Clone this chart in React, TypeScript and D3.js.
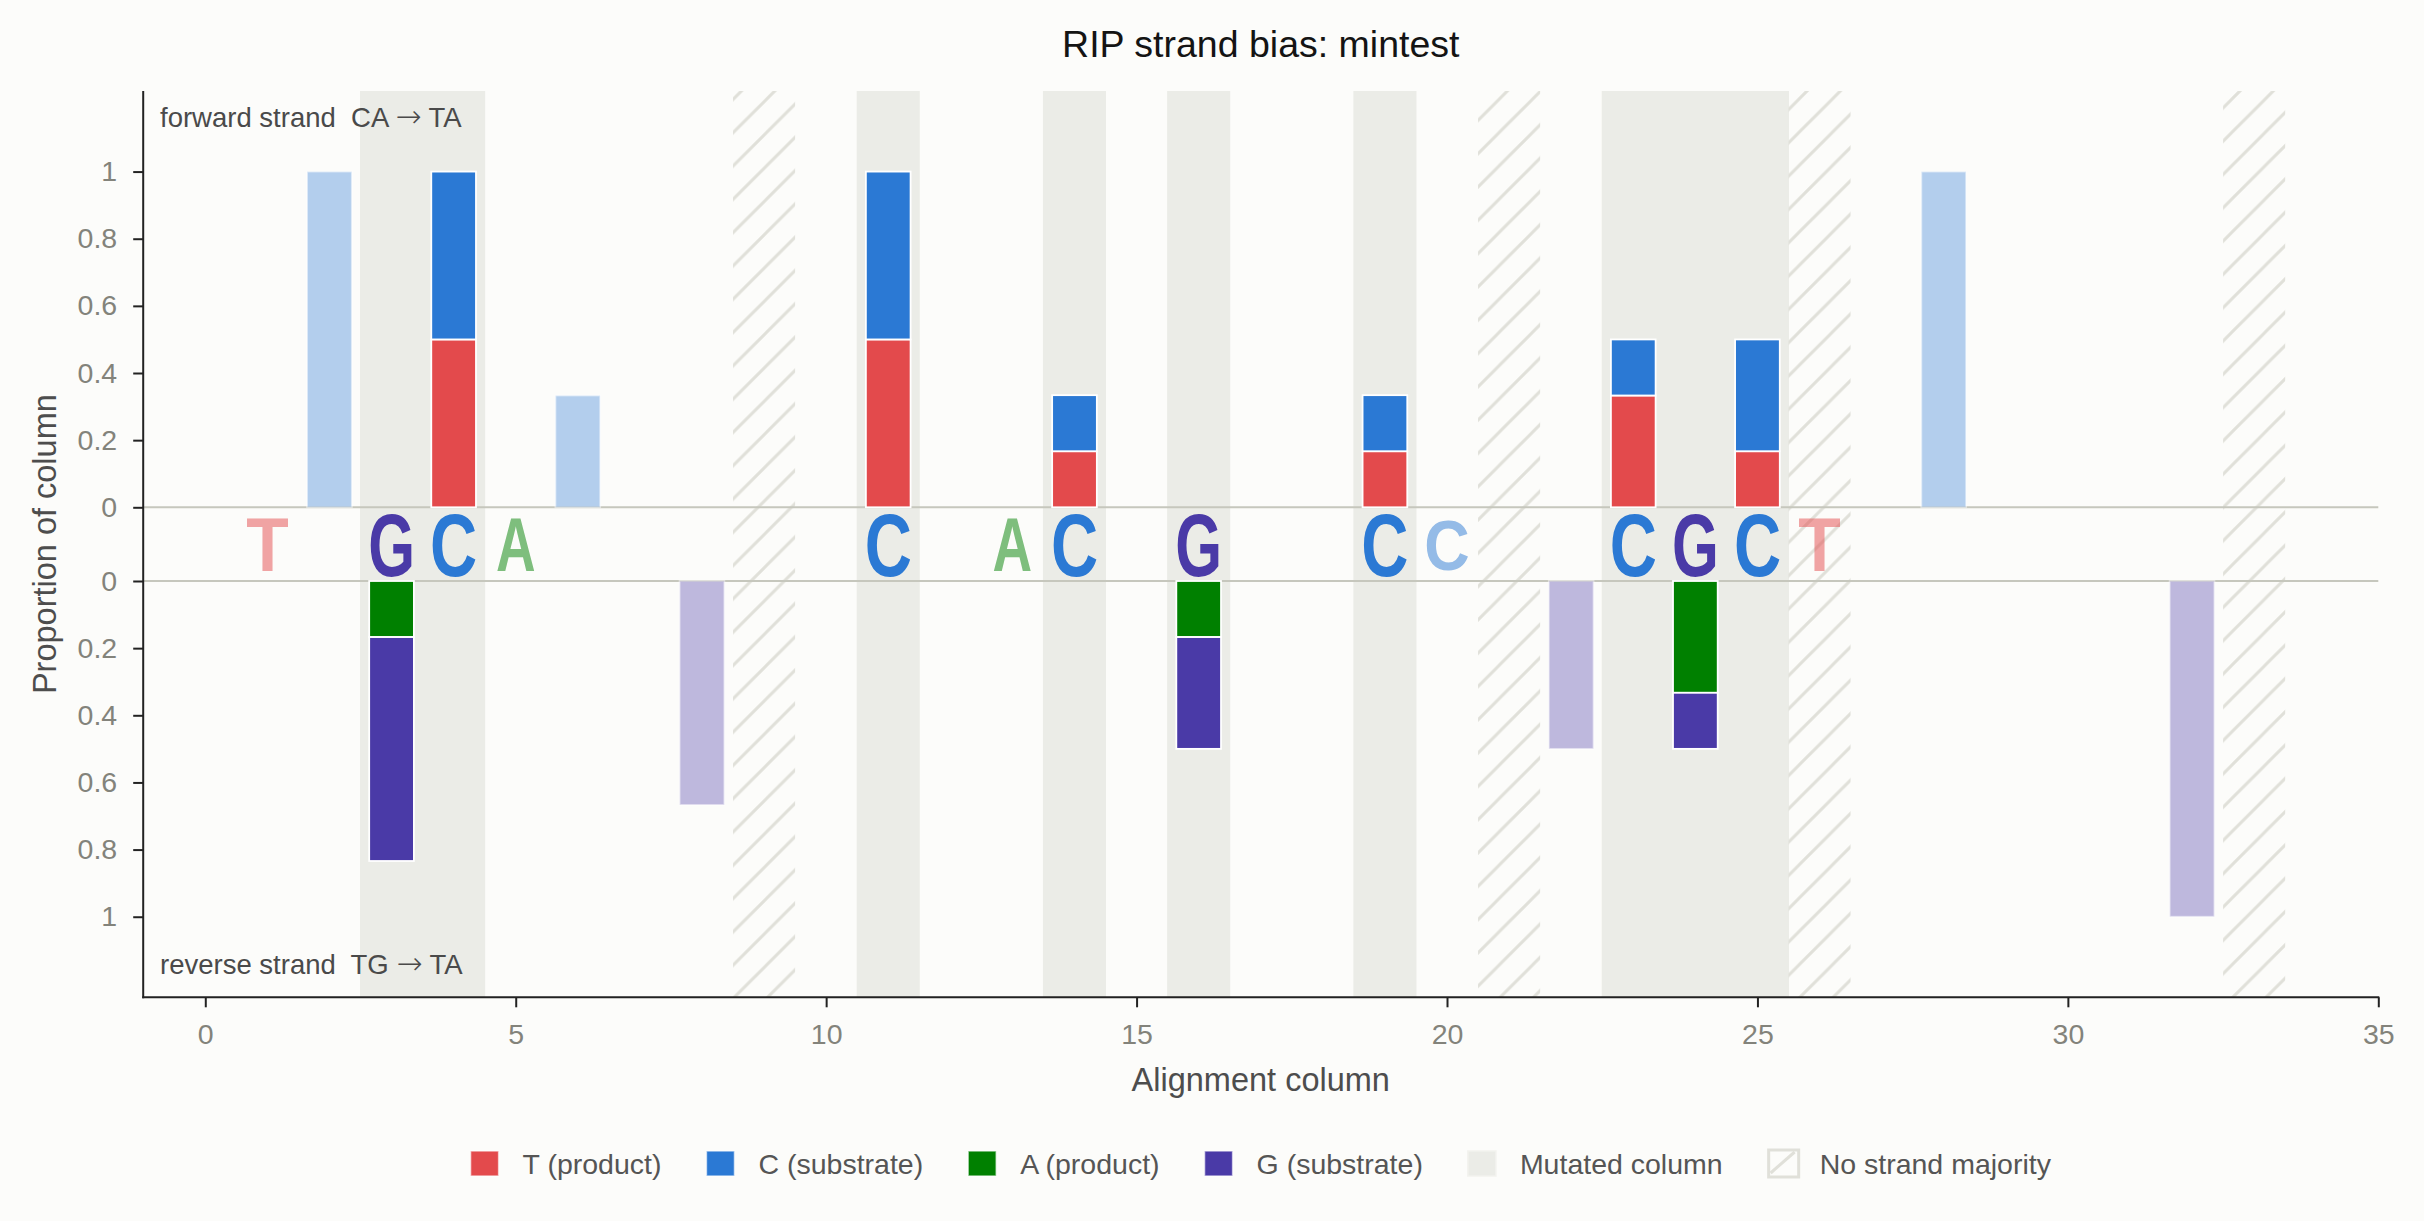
import React, { useEffect, useRef } from 'react';
import * as d3 from 'd3';

const W = 2424;
const H = 1221;

// columns with a called mutation (grey band) and columns with no strand majority (hatched)
const mutatedCols = [3, 4, 11, 14, 16, 19, 23, 24, 25];
const noMajorityCols = [9, 21, 26, 33];

// consensus letters drawn in the strip between the two strands
const letterCols = [1, 3, 4, 5, 11, 13, 14, 16, 19, 20, 23, 24, 25, 26];
const letterBases = ['T', 'G', 'C', 'A', 'C', 'A', 'C', 'G', 'C', 'C', 'C', 'G', 'C', 'T'];

// forward strand CA -> TA
const fwdCols = [2, 4, 6, 11, 14, 19, 23, 25, 28];
const fwdT = [0, 0.5, 0, 0.5, 0.167, 0.167, 0.333, 0.167, 0];
const fwdC = [1, 0.5, 0.333, 0.5, 0.167, 0.167, 0.167, 0.333, 1];

// reverse strand TG -> TA
const revCols = [3, 8, 16, 22, 24, 32];
const revA = [0.167, 0, 0.167, 0, 0.333, 0];
const revG = [0.667, 0.667, 0.333, 0.5, 0.167, 1];

const xTicks = [0, 5, 10, 15, 20, 25, 30, 35];
const yTicks = [0, 0.2, 0.4, 0.6, 0.8, 1];

const legendLabels = ['T (product)', 'C (substrate)', 'A (product)', 'G (substrate)', 'Mutated column', 'No strand majority'];

const baseColor: Record<string, string> = {
    T: '#e34a4c',
    C: '#2b79d4',
    A: '#008000',
    G: '#4a3aa7',
};

// ink box of bold glyphs, in em (width, height)
const ink: Record<string, [number, number]> = {
    C: [0.628, 0.76],
    G: [0.681, 0.76],
    T: [0.568, 0.716],
    A: [0.72, 0.716],
};

const FONT = "'Liberation Sans', Arial, Helvetica, sans-serif";
const BG = '#fcfcfa';
const BAND = '#ebece7';
const HATCH = '#e0e0d9';

const App = () => {
    const svgRef = useRef<SVGSVGElement>(null);

    useEffect(() => {
        document.body.style.margin = '0';
        if (!svgRef.current) return;
        const svg = d3.select(svgRef.current);
        svg.selectAll('*').remove();

        const left = 143.2, right = 2378.3, top = 91, bottom = 997.3;
        const x = d3.scaleLinear().domain([-1, 35]).range([left, right]);
        const yTop = d3.scaleLinear().domain([0, 1.24]).range([507.3, top]);
        const yBot = d3.scaleLinear().domain([0, 1.24]).range([581, bottom]);
        const colW = x(1) - x(0);
        const barW = colW * 0.72;

        svg.append('rect').attr('width', W).attr('height', H).attr('fill', BG);

        // hatch pattern
        const s = 33.3;
        const pat = svg.append('defs').append('pattern')
            .attr('id', 'hatch')
            .attr('patternUnits', 'userSpaceOnUse')
            .attr('width', s)
            .attr('height', s);
        pat.append('path')
            .attr('d', `M0,${s} L${s},0 M-4,4 L4,-4 M${s - 4},${s + 4} L${s + 4},${s - 4}`)
            .attr('stroke', HATCH)
            .attr('stroke-width', 3);

        // grey bands for mutated columns
        svg.append('g').selectAll('rect')
            .data(mutatedCols)
            .enter().append('rect')
            .attr('x', d => x(d - 0.5) - 0.5)
            .attr('width', colW + 1)
            .attr('y', top)
            .attr('height', bottom - top)
            .attr('fill', BAND);

        // hatched columns
        svg.append('g').selectAll('rect')
            .data(noMajorityCols)
            .enter().append('rect')
            .attr('x', d => x(d - 0.5))
            .attr('width', colW)
            .attr('y', top)
            .attr('height', bottom - top)
            .attr('fill', 'url(#hatch)');

        // zero lines
        [yTop(0), yBot(0)].forEach(yy => {
            svg.append('line')
                .attr('x1', left).attr('x2', right)
                .attr('y1', yy).attr('y2', yy)
                .attr('stroke', '#c6c7bd')
                .attr('stroke-width', 2);
        });

        const bars = svg.append('g');
        const addSeg = (col: number, y0: number, y1: number, color: string, faded: boolean) => {
            if (Math.abs(y1 - y0) < 0.5) return;
            bars.append('rect')
                .attr('x', x(col) - barW / 2)
                .attr('width', barW)
                .attr('y', Math.min(y0, y1))
                .attr('height', Math.abs(y1 - y0))
                .attr('fill', color)
                .attr('fill-opacity', faded ? 0.35 : 1)
                .attr('stroke', '#ffffff')
                .attr('stroke-opacity', faded ? 0.5 : 1)
                .attr('stroke-width', 1.8);
        };

        fwdCols.forEach((c, i) => {
            const faded = !mutatedCols.includes(c);
            addSeg(c, yTop(0), yTop(fwdT[i]), baseColor.T, faded);
            addSeg(c, yTop(fwdT[i]), yTop(fwdT[i] + fwdC[i]), baseColor.C, faded);
        });
        revCols.forEach((c, i) => {
            const faded = !mutatedCols.includes(c);
            addSeg(c, yBot(0), yBot(revA[i]), baseColor.A, faded);
            addSeg(c, yBot(revA[i]), yBot(revA[i] + revG[i]), baseColor.G, faded);
        });

        // consensus letters, stretched to a box
        const midY = (yTop(0) + yBot(0)) / 2;
        const F = 100;
        letterCols.forEach((c, i) => {
            const b = letterBases[i];
            const strong = mutatedCols.includes(c);
            const boxH = strong ? 68 : 54;
            const boxW = strong ? 41 : 39.5;
            const sx = boxW / (ink[b][0] * F);
            const sy = boxH / (ink[b][1] * F);
            svg.append('g')
                .attr('transform', `translate(${x(c)},${midY}) scale(${sx},${sy})`)
                .append('text')
                .attr('x', 0)
                .attr('y', 0.36 * F)
                .attr('text-anchor', 'middle')
                .style('font-family', FONT)
                .style('font-weight', 'bold')
                .style('font-size', `${F}px`)
                .attr('fill', baseColor[b])
                .attr('fill-opacity', strong ? 1 : 0.5)
                .text(b);
        });

        // axes
        const styleAxis = (g: d3.Selection<SVGGElement, unknown, null, undefined>) => {
            g.select('.domain').remove();
            g.selectAll('line').attr('stroke', '#222').attr('stroke-width', 2);
            g.selectAll('text')
                .attr('fill', '#83837b')
                .style('font-family', FONT)
                .style('font-size', '28.5px');
        };
        const fmt = d3.format('~g');
        svg.append('g')
            .attr('transform', `translate(${left},0)`)
            .call(d3.axisLeft(yTop).tickValues(yTicks).tickSize(10).tickPadding(16).tickFormat(d => fmt(d as number)))
            .call(styleAxis);
        svg.append('g')
            .attr('transform', `translate(${left},0)`)
            .call(d3.axisLeft(yBot).tickValues(yTicks).tickSize(10).tickPadding(16).tickFormat(d => fmt(d as number)))
            .call(styleAxis);
        svg.append('g')
            .attr('transform', `translate(0,${bottom})`)
            .call(d3.axisBottom(x).tickValues(xTicks).tickSize(10).tickPadding(16))
            .call(styleAxis);

        // spines
        svg.append('line')
            .attr('x1', left).attr('x2', left).attr('y1', top).attr('y2', bottom + 1)
            .attr('stroke', '#222').attr('stroke-width', 2);
        svg.append('line')
            .attr('x1', left - 1).attr('x2', right + 1).attr('y1', bottom).attr('y2', bottom)
            .attr('stroke', '#222').attr('stroke-width', 2);

        // titles and labels
        svg.append('text')
            .attr('x', (left + right) / 2)
            .attr('y', 57.3)
            .attr('text-anchor', 'middle')
            .style('font-family', FONT)
            .style('font-size', '37.5px')
            .attr('fill', '#141414')
            .text('RIP strand bias: mintest');

        svg.append('text')
            .attr('x', (left + right) / 2)
            .attr('y', 1090.7)
            .attr('text-anchor', 'middle')
            .style('font-family', FONT)
            .style('font-size', '32.5px')
            .attr('fill', '#4d4d4d')
            .text('Alignment column');

        svg.append('text')
            .attr('transform', `translate(55.5,${(top + bottom) / 2}) rotate(-90)`)
            .attr('text-anchor', 'middle')
            .style('font-family', FONT)
            .style('font-size', '32.5px')
            .attr('fill', '#4d4d4d')
            .text('Proportion of column');

        const strandNote = (yy: number, head: string, from: string, to: string) => {
            const t = svg.append('text')
                .attr('x', 160).attr('y', yy)
                .style('font-family', FONT)
                .style('font-size', '27.5px')
                .style('white-space', 'pre')
                .attr('fill', '#4a4a4a');
            t.append('tspan').text(`${head}  ${from} `);
            t.append('tspan')
                .style('font-family', "'DejaVu Sans', sans-serif")
                .style('font-size', '31px')
                .style('font-weight', 200)
                .text('\u2192');
            t.append('tspan').text(` ${to}`);
        };
        strandNote(126.7, 'forward strand', 'CA', 'TA');
        strandNote(974, 'reverse strand', 'TG', 'TA');

        // legend
        const legend = svg.append('g');
        const handleW = 28, handleH = 25, handleGap = 24, itemGap = 45;
        const legendCy = 1163.5;
        const items = legendLabels.map((label, i) => {
            const g = legend.append('g');
            const t = g.append('text')
                .attr('x', handleW + handleGap)
                .attr('y', legendCy + 10)
                .style('font-family', FONT)
                .style('font-size', '28.5px')
                .attr('fill', '#555555')
                .text(label);
            const tw = (t.node() as SVGTextElement).getComputedTextLength();
            if (i < 4) {
                const col = baseColor[['T', 'C', 'A', 'G'][i]];
                g.append('rect')
                    .attr('x', 0).attr('y', legendCy - handleH / 2)
                    .attr('width', handleW).attr('height', handleH)
                    .attr('fill', col)
                    .attr('stroke', '#ffffff').attr('stroke-opacity', 0.6).attr('stroke-width', 1.5);
            } else if (i === 4) {
                g.append('rect')
                    .attr('x', 0).attr('y', legendCy - handleH / 2)
                    .attr('width', handleW).attr('height', handleH)
                    .attr('fill', BAND)
                    .attr('stroke', '#f2f2ee').attr('stroke-width', 1.5);
            } else {
                g.append('rect')
                    .attr('x', 1).attr('y', legendCy - handleH / 2 - 1)
                    .attr('width', handleW + 2).attr('height', handleH + 2)
                    .attr('fill', 'none')
                    .attr('stroke', HATCH).attr('stroke-width', 3);
                g.append('line')
                    .attr('x1', 3).attr('y1', legendCy + handleH / 2 - 3)
                    .attr('x2', handleW - 1).attr('y2', legendCy - handleH / 2 + 1)
                    .attr('stroke', HATCH).attr('stroke-width', 3);
            }
            return { g, w: handleW + handleGap + tw };
        });
        const total = d3.sum(items, d => d.w) + itemGap * (items.length - 1);
        let cx = (left + right) / 2 - total / 2;
        items.forEach(it => {
            it.g.attr('transform', `translate(${cx},0)`);
            cx += it.w + itemGap;
        });
    }, []);

    return (
        <svg ref={svgRef} width={W} height={H} style={{ display: 'block' }}></svg>
    );
};

export default App;
